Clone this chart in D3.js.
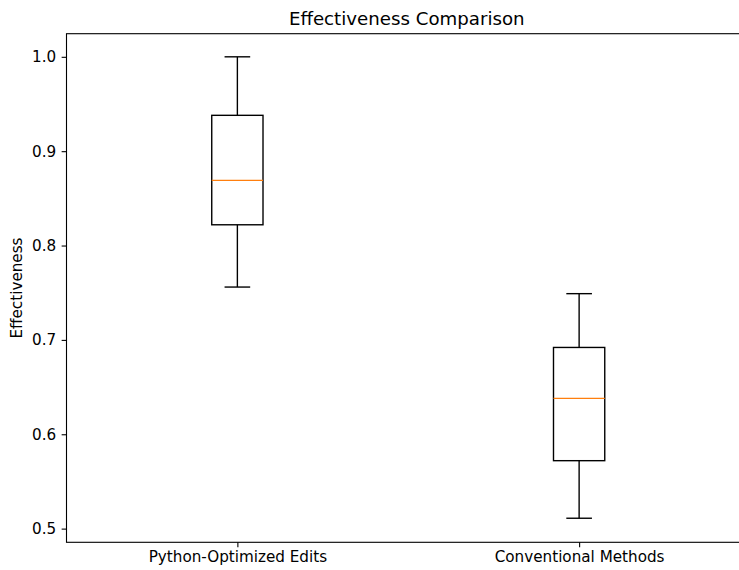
<!DOCTYPE html>
<html>
<head>
<meta charset="utf-8">
<script src="https://cdn.jsdelivr.net/npm/d3@7/dist/d3.min.js"></script>
<style>
  html, body { margin: 0; padding: 0; background: #fff; }
  svg { display: block; }
  text { font-family: "DejaVu Sans", sans-serif; fill: #000; }
</style>
</head>
<body>
<svg id="chart" width="739" height="570"></svg>
<script>
const categories = ["Python-Optimized Edits", "Conventional Methods"];
const whiskerLow  = [0.756, 0.511];
const q1          = [0.822, 0.572];
const median      = [0.869, 0.638];
const q3          = [0.938, 0.692];
const whiskerHigh = [1.000, 0.749];
const yTicks = [0.5, 0.6, 0.7, 0.8, 0.9, 1.0];

(function () {
const svg = d3.select("#chart");
const pLeft = 66.5, pRight = 750, pTop = 33.7, pBottom = 542.3;
const tickFont = "15.2px", titleFont = "18.2px";

const x = d3.scaleLinear().domain([0.5, 2.5]).range([pLeft, pRight]);
const y = d3.scaleLinear().domain([0.4855, 1.0245]).range([pBottom, pTop]);

const boxHalf = 0.075, capHalf = 0.0375;

const g = svg.append("g");
categories.forEach((c, i) => {
  const pos = i + 1;
  const cx = x(pos);
  const stroke = "#000", sw = 1.39;
  g.append("line").attr("x1", cx).attr("x2", cx).attr("y1", y(q3[i])).attr("y2", y(whiskerHigh[i]))
    .attr("stroke", stroke).attr("stroke-width", sw);
  g.append("line").attr("x1", cx).attr("x2", cx).attr("y1", y(q1[i])).attr("y2", y(whiskerLow[i]))
    .attr("stroke", stroke).attr("stroke-width", sw);
  [whiskerHigh[i], whiskerLow[i]].forEach(v => {
    g.append("line").attr("x1", x(pos - capHalf)).attr("x2", x(pos + capHalf))
      .attr("y1", y(v)).attr("y2", y(v)).attr("stroke", stroke).attr("stroke-width", sw);
  });
  g.append("rect").attr("x", x(pos - boxHalf)).attr("y", y(q3[i]))
    .attr("width", x(pos + boxHalf) - x(pos - boxHalf)).attr("height", y(q1[i]) - y(q3[i]))
    .attr("fill", "none").attr("stroke", stroke).attr("stroke-width", sw);
  g.append("line").attr("x1", x(pos - boxHalf)).attr("x2", x(pos + boxHalf))
    .attr("y1", y(median[i])).attr("y2", y(median[i]))
    .attr("stroke", "#ff7f0e").attr("stroke-width", sw);
});

const yAxis = d3.axisLeft(y).tickValues(yTicks).tickFormat(d3.format(".1f"))
  .tickSize(4.86).tickPadding(5.5);
const yg = svg.append("g").attr("transform", `translate(${pLeft},0)`).call(yAxis);
yg.select(".domain").remove();
yg.selectAll("line").attr("stroke", "#000").attr("stroke-width", 1.1);
yg.selectAll("text").attr("font-size", tickFont).attr("font-family", "DejaVu Sans").attr("fill", "#000");

const xAxis = d3.axisBottom(x).tickValues([1, 2]).tickFormat((d) => categories[d - 1])
  .tickSize(4.86).tickPadding(4.5);
const xg = svg.append("g").attr("transform", `translate(0,${pBottom})`).call(xAxis);
xg.select(".domain").remove();
xg.selectAll("line").attr("stroke", "#000").attr("stroke-width", 1.1);
xg.selectAll("text").attr("font-size", tickFont).attr("font-family", "DejaVu Sans").attr("fill", "#000");

svg.append("rect").attr("x", pLeft).attr("y", pTop).attr("width", pRight - pLeft).attr("height", pBottom - pTop)
  .attr("fill", "none").attr("stroke", "#000").attr("stroke-width", 1.1);

svg.append("text").attr("x", (pLeft + pRight) / 2 - 1.5).attr("y", pTop - 9)
  .attr("text-anchor", "middle").attr("font-size", titleFont).text("Effectiveness Comparison");

svg.append("text").attr("transform", `translate(22,${(pTop + pBottom) / 2}) rotate(-90)`)
  .attr("text-anchor", "middle").attr("font-size", tickFont).text("Effectiveness");
})();
</script>
</body>
</html>
